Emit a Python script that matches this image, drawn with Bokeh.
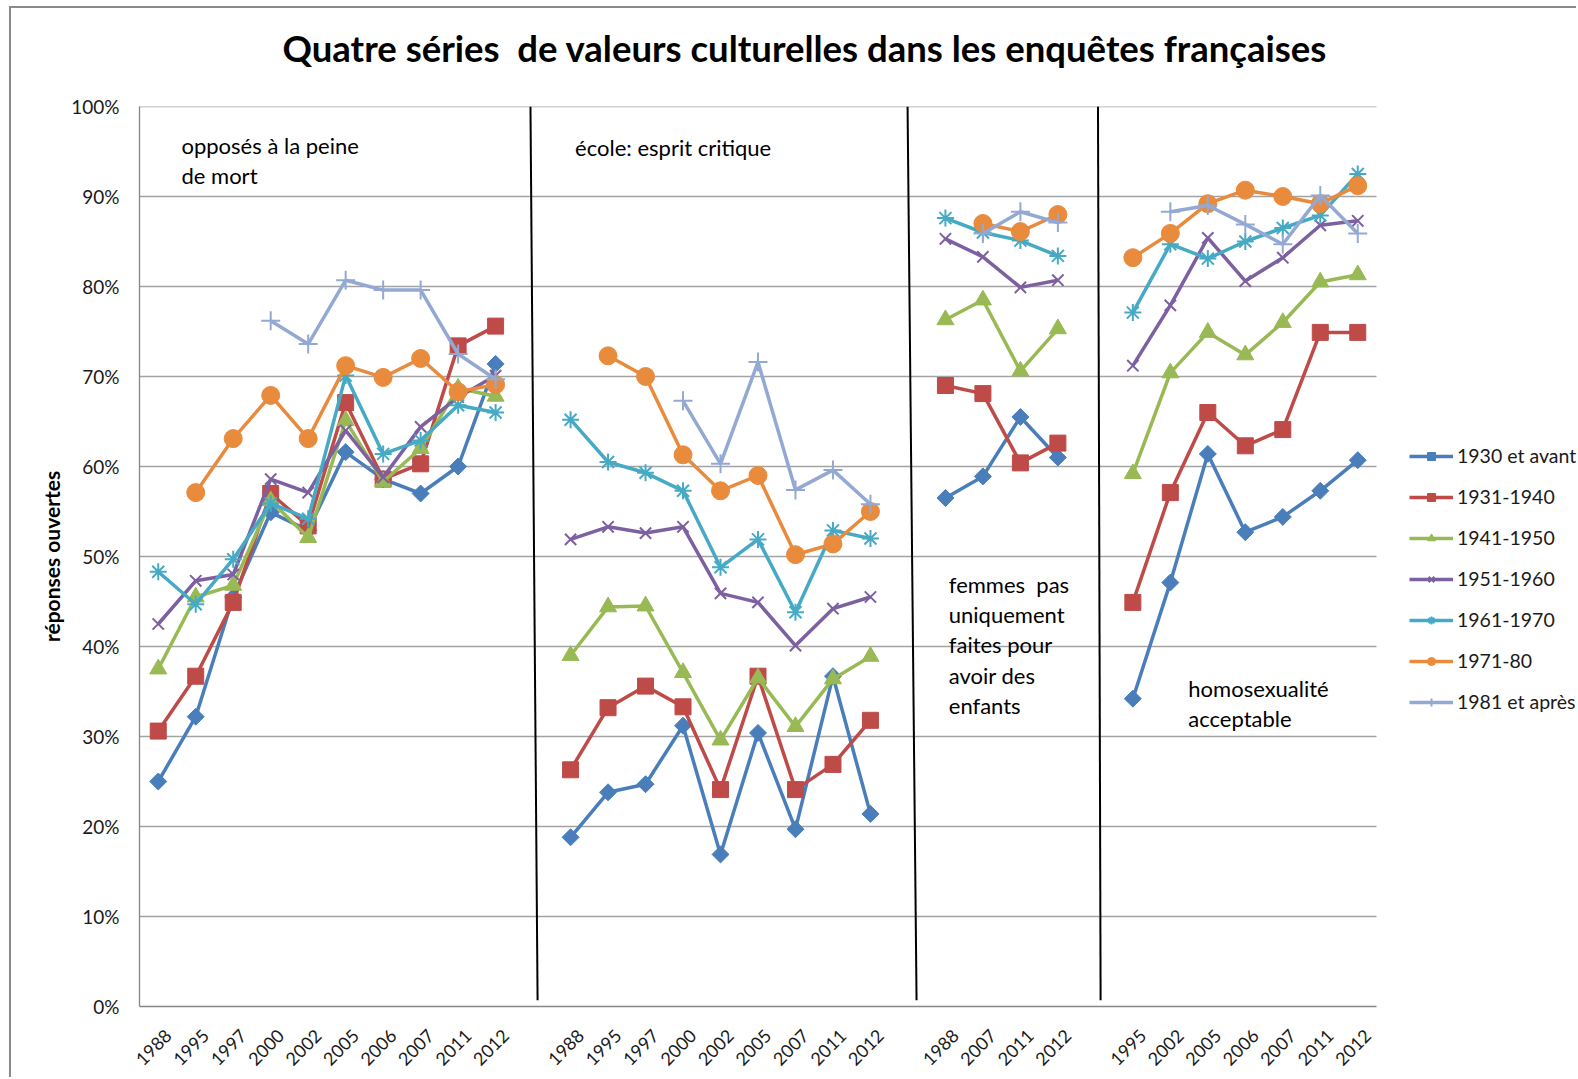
import math
from bokeh.plotting import figure
from bokeh.models import (FixedTicker, PrintfTickFormatter, Label, Legend,
                          LegendItem, Range1d, Title)
from bokeh.embed import file_html
from bokeh.resources import INLINE

# ---------------- data ----------------
years_g1 = ["1988", "1995", "1997", "2000", "2002", "2005", "2006", "2007", "2011", "2012"]
years_g2 = ["1988", "1995", "1997", "2000", "2002", "2005", "2007", "2011", "2012"]
years_g3 = ["1988", "2007", "2011", "2012"]
years_g4 = ["1995", "2002", "2005", "2006", "2007", "2011", "2012"]

nan = float("nan")
series_names = ["1930 et avant", "1931-1940", "1941-1950", "1951-1960",
                "1961-1970", "1971-80", "1981 et après"]

# opposés à la peine de mort
g1_s1 = [25.0, 32.2, 45.5, 54.9, 52.9, 61.6, 58.6, 57.0, 60.0, 71.4]
g1_s2 = [30.6, 36.7, 44.9, 57.0, 53.4, 67.1, 58.6, 60.3, 73.4, 75.6]
g1_s3 = [37.5, 45.5, 46.8, 56.2, 52.1, 65.1, 58.3, 62.0, 68.7, 67.8]
g1_s4 = [42.5, 47.3, 48.0, 58.6, 57.1, 64.0, 58.8, 64.4, 67.7, 70.1]
g1_s5 = [48.3, 44.7, 49.7, 55.9, 54.2, 70.1, 61.4, 62.9, 66.8, 66.0]
g1_s6 = [nan, 57.1, 63.1, 67.9, 63.1, 71.2, 69.9, 72.0, 68.3, 69.1]
g1_s7 = [nan, nan, nan, 76.2, 73.6, 80.7, 79.6, 79.6, 72.5, 69.7]

# école: esprit critique
g2_s1 = [18.8, 23.8, 24.7, 31.2, 16.9, 30.4, 19.7, 36.7, 21.4]
g2_s2 = [26.3, 33.2, 35.6, 33.3, 24.1, 36.7, 24.1, 26.9, 31.8]
g2_s3 = [39.0, 44.4, 44.5, 37.1, 29.6, 36.5, 31.1, 36.4, 38.9]
g2_s4 = [51.9, 53.3, 52.6, 53.3, 45.9, 44.9, 40.1, 44.2, 45.5]
g2_s5 = [65.2, 60.5, 59.3, 57.3, 48.8, 51.9, 43.8, 52.9, 52.0]
g2_s6 = [nan, 72.3, 70.0, 61.3, 57.3, 59.0, 50.2, 51.4, 55.0]
g2_s7 = [nan, nan, nan, 67.3, 60.3, 71.6, 57.4, 59.6, 55.8]

# femmes pas uniquement faites pour avoir des enfants
g3_s1 = [56.5, 58.9, 65.5, 61.0]
g3_s2 = [69.0, 68.1, 60.4, 62.6]
g3_s3 = [76.3, 78.5, 70.6, 75.3]
g3_s4 = [85.3, 83.3, 79.9, 80.7]
g3_s5 = [87.6, 86.0, 85.1, 83.4]
g3_s6 = [nan, 87.0, 86.1, 88.0]
g3_s7 = [nan, 85.9, 88.3, 87.1]

# homosexualité acceptable
g4_s1 = [34.2, 47.1, 61.4, 52.7, 54.4, 57.3, 60.7]
g4_s2 = [44.9, 57.1, 66.0, 62.3, 64.1, 74.9, 74.9]
g4_s3 = [59.2, 70.4, 74.9, 72.4, 76.0, 80.5, 81.3]
g4_s4 = [71.2, 77.9, 85.4, 80.6, 83.2, 86.8, 87.3]
g4_s5 = [77.1, 84.7, 83.1, 85.0, 86.5, 87.9, 92.5]
g4_s6 = [83.2, 85.9, 89.2, 90.7, 90.0, 89.2, 91.2]
g4_s7 = [nan, 88.3, 89.0, 86.9, 84.7, 90.1, 85.9]

y_ticks = [0, 10, 20, 30, 40, 50, 60, 70, 80, 90, 100]

NBSP = "\u00a0"
title_text = "Quatre séries" + NBSP + " de valeurs culturelles dans les enquêtes françaises"
panel_texts = ["opposés à la peine\nde mort",
               "école: esprit critique",
               "femmes" + NBSP + " pas\nuniquement\nfaites pour\navoir des\nenfants",
               "homosexualité\nacceptable"]

# ---------------- layout of categories ----------------
groups_years = [years_g1, years_g2, years_g3, years_g4]
groups_vals = [
    [g1_s1, g1_s2, g1_s3, g1_s4, g1_s5, g1_s6, g1_s7],
    [g2_s1, g2_s2, g2_s3, g2_s4, g2_s5, g2_s6, g2_s7],
    [g3_s1, g3_s2, g3_s3, g3_s4, g3_s5, g3_s6, g3_s7],
    [g4_s1, g4_s2, g4_s3, g4_s4, g4_s5, g4_s6, g4_s7],
]

LABEL_SHIFT = 0.27   # rotated labels sit slightly right of the category centre
x_all = []
tick_pos = []
tick_lab = {}
gap_pos = []
group_start = []
idx = 0
for gi, yrs in enumerate(groups_years):
    if gi > 0:
        gap_pos.append(idx)
        x_all.append(idx)
        idx += 1
    group_start.append(idx)
    for yr in yrs:
        tpos = idx + LABEL_SHIFT
        tick_pos.append(tpos)
        tick_lab[tpos] = yr
        x_all.append(idx)
        idx += 1
n_cat = idx

series_y = []
for si in range(len(series_names)):
    ys = []
    for gi in range(len(groups_years)):
        if gi > 0:
            ys.append(nan)
        ys.extend(groups_vals[gi][si])
    series_y.append(ys)

# ---------------- styling / geometry ----------------
colors = ["#4A7EBB", "#BE4B48", "#98B954", "#7D60A0", "#46AAC5", "#E88B3D", "#93A9D4"]
markers = ["square", "square", "triangle", "x", "asterisk", "circle", "cross"]
angles = [math.pi / 4, 0, 0, 0, 0, 0, 0]
sizes = [12, 16, 17, 16, 17, 18, 19]
FONT = "Lato"

W, H = 1567, 1071
B_LEFT, B_TOP, B_BOTTOM = 128, 98, 73
PLOT_W = 1237                       # width of the value area (px)
frame_w = W - B_LEFT                # frame runs on to the right edge (legend area)
cat_px = PLOT_W / n_cat
x_end = -0.5 + frame_w / cat_px

p = figure(width=W, height=H, output_backend="svg", toolbar_location=None,
           x_range=Range1d(-0.5, x_end), y_range=Range1d(0, 100),
           min_border_left=B_LEFT, min_border_right=0, min_border_top=B_TOP,
           min_border_bottom=B_BOTTOM)
p.outline_line_color = None
p.background_fill_color = "white"
p.border_fill_color = "white"
p.styles = {"margin-left": "9px", "margin-top": "6px",
            "border-left": "2px solid #8a8a8a", "border-top": "2px solid #8a8a8a"}

# spacer between the value area and the title
p.add_layout(Title(text=NBSP, text_font_size="1px", standoff=34), "above")

p.title.text = title_text
p.title.text_font = FONT
p.title.text_font_style = "bold"
p.title.text_font_size = "36.5px"
p.title.text_color = "#000000"
p.title.align = "left"
p.title.vertical_align = "bottom"
p.title.offset = 143
p.title.standoff = 0

p.xgrid.visible = False
p.ygrid.visible = False

yax = p.yaxis[0]
yax.ticker = FixedTicker(ticks=y_ticks)
yax.formatter = PrintfTickFormatter(format="%d%%")
yax.major_tick_out = 0
yax.major_tick_in = 0
yax.minor_tick_out = 0
yax.minor_tick_in = 0
yax.axis_line_color = "#868686"
yax.axis_line_width = 1.3
yax.major_label_text_font = FONT
yax.major_label_text_font_size = "19px"
yax.major_label_text_color = "#1a1a1a"
yax.major_label_standoff = 20
yax.axis_label = "réponses ouvertes"
yax.axis_label_text_font = FONT
yax.axis_label_text_font_style = "bold"
yax.axis_label_text_font_size = "21px"
yax.axis_label_text_color = "#000000"
yax.axis_label_standoff = 4

xax = p.xaxis[0]
xax.ticker = FixedTicker(ticks=tick_pos)
xax.bounds = (-0.5, n_cat - 0.5)
xax.major_label_overrides = tick_lab
xax.major_label_orientation = math.pi / 4
xax.major_tick_out = 0
xax.major_tick_in = 0
xax.minor_tick_out = 0
xax.minor_tick_in = 0
xax.axis_line_color = "#868686"
xax.axis_line_width = 1.3
xax.major_label_text_font = FONT
xax.major_label_text_font_size = "18px"
xax.major_label_text_color = "#1a1a1a"
xax.major_label_standoff = 26

# horizontal gridlines over the value area only
grid_y = [t for t in y_ticks if t > 0]
p.segment(x0=[-0.5] * len(grid_y), y0=grid_y, x1=[n_cat - 0.5] * len(grid_y), y1=grid_y,
          line_color="#a3a3a3", line_width=1.3)

# separator lines between the four surveys (hand drawn, slightly tilted)
tilt_top = [-0.07, -0.01, 0.07]
tilt_bot = [0.12, 0.23, 0.14]
p.segment(x0=[g + t for g, t in zip(gap_pos, tilt_top)], y0=[100] * len(gap_pos),
          x1=[g + t for g, t in zip(gap_pos, tilt_bot)], y1=[0.7] * len(gap_pos),
          line_color="black", line_width=2)

items = []
for si, name in enumerate(series_names):
    lr = p.line(x_all, series_y[si], line_color=colors[si], line_width=3.5)
    mk = dict(marker=markers[si], size=sizes[si], angle=angles[si],
              line_color=colors[si], fill_color=colors[si])
    if markers[si] in ("x", "asterisk", "cross"):
        mk["line_width"] = 2
    sr = p.scatter(x_all, series_y[si], **mk)
    items.append(LegendItem(label=name, renderers=[lr, sr]))

legend = Legend(items=items, location=(PLOT_W + 33, 293), orientation="vertical",
                border_line_color=None, background_fill_alpha=0,
                label_text_font=FONT, label_text_font_size="19.5px",
                label_text_color="#1a1a1a",
                glyph_width=44, glyph_height=20, label_height=20,
                spacing=18, padding=0, margin=0, label_standoff=4)
p.add_layout(legend, "center")

# panel annotations (x in category units relative to group start, y in %)
text_pos = [(0.62 - group_start[0], 95.65), (11.12 - group_start[1], 95.4),
            (21.09 - group_start[2], 46.9), (27.48 - group_start[3], 35.35)]
line_step = 3.36
for gi, txt in enumerate(panel_texts):
    dx, y0 = text_pos[gi]
    for li, line in enumerate(txt.split("\n")):
        p.add_layout(Label(x=group_start[gi] + dx, y=y0 - li * line_step, text=line,
                           text_font=FONT, text_font_size="22px", text_color="#000000",
                           text_baseline="middle", text_align="left"))

open("out.html", "w").write(file_html(p, INLINE))
